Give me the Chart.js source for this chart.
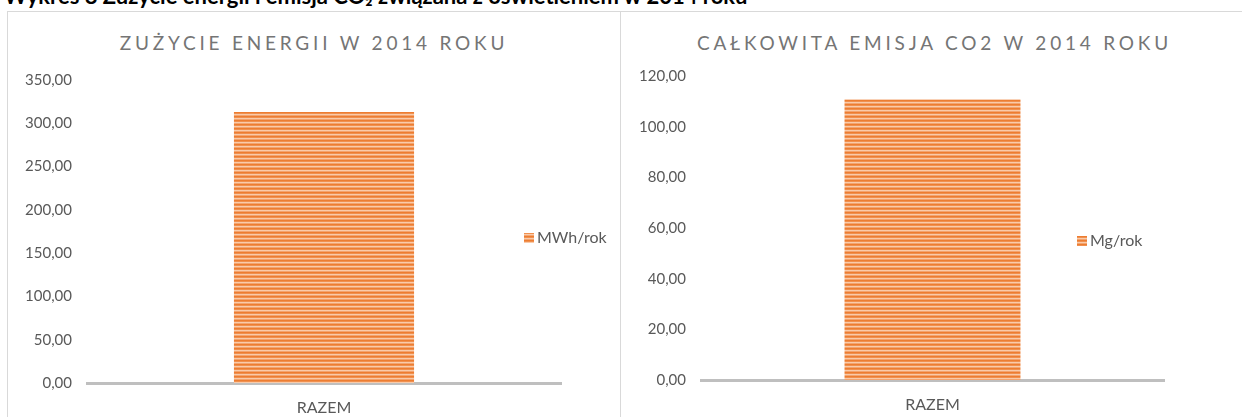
<!DOCTYPE html>
<html>
<head>
<meta charset="utf-8">
<script src="https://cdn.jsdelivr.net/npm/chart.js@4"></script>
<style>
  body { margin: 0; background: #fff; width: 1242px; height: 417px; overflow: hidden; position: relative; font-family: Lato, 'Liberation Sans', sans-serif; }
  .heading { position: absolute; left: 4px; top: -15px; font-weight: bold; font-size: 22px; line-height: 22px; color: #000; white-space: nowrap; }
  .box { position: absolute; top: 11px; height: 420px; border: 1px solid #D9D9D9; background: #fff; }
  #boxA { left: 7px; width: 612px; }
  #boxB { left: 620px; width: 627px; }
  .title { position: absolute; top: 19px; left: 0; right: 0; text-align: center; font-size: 19px; letter-spacing: 3.8px; color: #757575; }
  canvas { position: absolute; left: 0; top: 0; }
</style>
</head>
<body>
<div class="heading">Wykres 8 Zużycie energii i emisja CO₂ związana z oświetleniem w 2014 roku</div>
<div class="box" id="boxA">
  <div class="title">ZUŻYCIE ENERGII W 2014 ROKU</div>
  <canvas id="chartA" width="612" height="405"></canvas>
</div>
<div class="box" id="boxB">
  <div class="title">CAŁKOWITA EMISJA CO2 W 2014 ROKU</div>
  <canvas id="chartB" width="627" height="405"></canvas>
</div>
<script>
// data
const categories = ['RAZEM'];
const energyLabel = 'MWh/rok';
const energyValues = [312.9];
const energyTicks = [0, 50, 100, 150, 200, 250, 300, 350];
const emissionLabel = 'Mg/rok';
const emissionValues = [110.7];
const emissionTicks = [0, 20, 40, 60, 80, 100, 120];

const fontFamily = 'Lato, "Liberation Sans", sans-serif';
const textGray = '#595959';

// striped orange fill like the Excel pattern
function stripes() {
  const c = document.createElement('canvas');
  c.width = 4;
  c.height = 4;
  const g = c.getContext('2d');
  const rows = ['#ED7D31', '#F0904F', '#F9CBAA', '#F3A46F'];
  rows.forEach((col, i) => {
    g.fillStyle = col;
    g.fillRect(0, i, 4, 1);
  });
  return g.createPattern(c, 'repeat');
}

// single legend entry placed inside the plot, as in the original
const sideLegend = {
  id: 'sideLegend',
  afterDraw(chart, args, opts) {
    const ctx = chart.ctx;
    const ds = chart.data.datasets[0];
    ctx.save();
    ctx.fillStyle = ds.backgroundColor;
    ctx.fillRect(opts.x, opts.y - 5, 10, 10);
    ctx.font = '16px ' + fontFamily;
    ctx.fillStyle = textGray;
    ctx.textBaseline = 'middle';
    ctx.fillText(ds.label, opts.x + 13, opts.y);
    ctx.restore();
  }
};

function makeChart(id, label, values, ticks, area, legendPos) {
  const canvas = document.getElementById(id);
  const w = canvas.width;
  const h = canvas.height;
  return new Chart(canvas.getContext('2d'), {
    type: 'bar',
    data: {
      labels: categories,
      datasets: [{
        label: label,
        data: values,
        backgroundColor: stripes(),
        borderWidth: 0,
        categoryPercentage: 1,
        barPercentage: 0.38
      }]
    },
    plugins: [sideLegend],
    options: {
      responsive: false,
      animation: false,
      layout: { padding: { left: 0, top: area.top, right: w - area.right, bottom: 0 } },
      plugins: {
        legend: { display: false },
        tooltip: { enabled: false },
        sideLegend: legendPos
      },
      scales: {
        x: {
          grid: { display: false, drawTicks: false },
          border: { display: true, color: '#BFBFBF', width: 3 },
          ticks: { color: textGray, font: { family: fontFamily, size: 16 }, padding: 15 },
          afterFit: s => { s.height = h - area.bottom; }
        },
        y: {
          min: ticks[0],
          max: ticks[ticks.length - 1],
          grid: { display: false, drawTicks: false },
          border: { display: false },
          afterBuildTicks: s => { s.ticks = ticks.map(v => ({ value: v })); },
          ticks: {
            color: textGray,
            font: { family: fontFamily, size: 15 },
            padding: 15,
            callback: v => v.toFixed(2).replace('.', ',')
          },
          afterFit: s => { s.width = area.left; }
        }
      }
    }
  });
}

makeChart('chartA', energyLabel, energyValues, energyTicks,
  { left: 79, right: 553, top: 68, bottom: 371 }, { x: 516, y: 226 });
makeChart('chartB', emissionLabel, emissionValues, emissionTicks,
  { left: 80, right: 543, top: 64, bottom: 368 }, { x: 456, y: 229 });
</script>
</body>
</html>
